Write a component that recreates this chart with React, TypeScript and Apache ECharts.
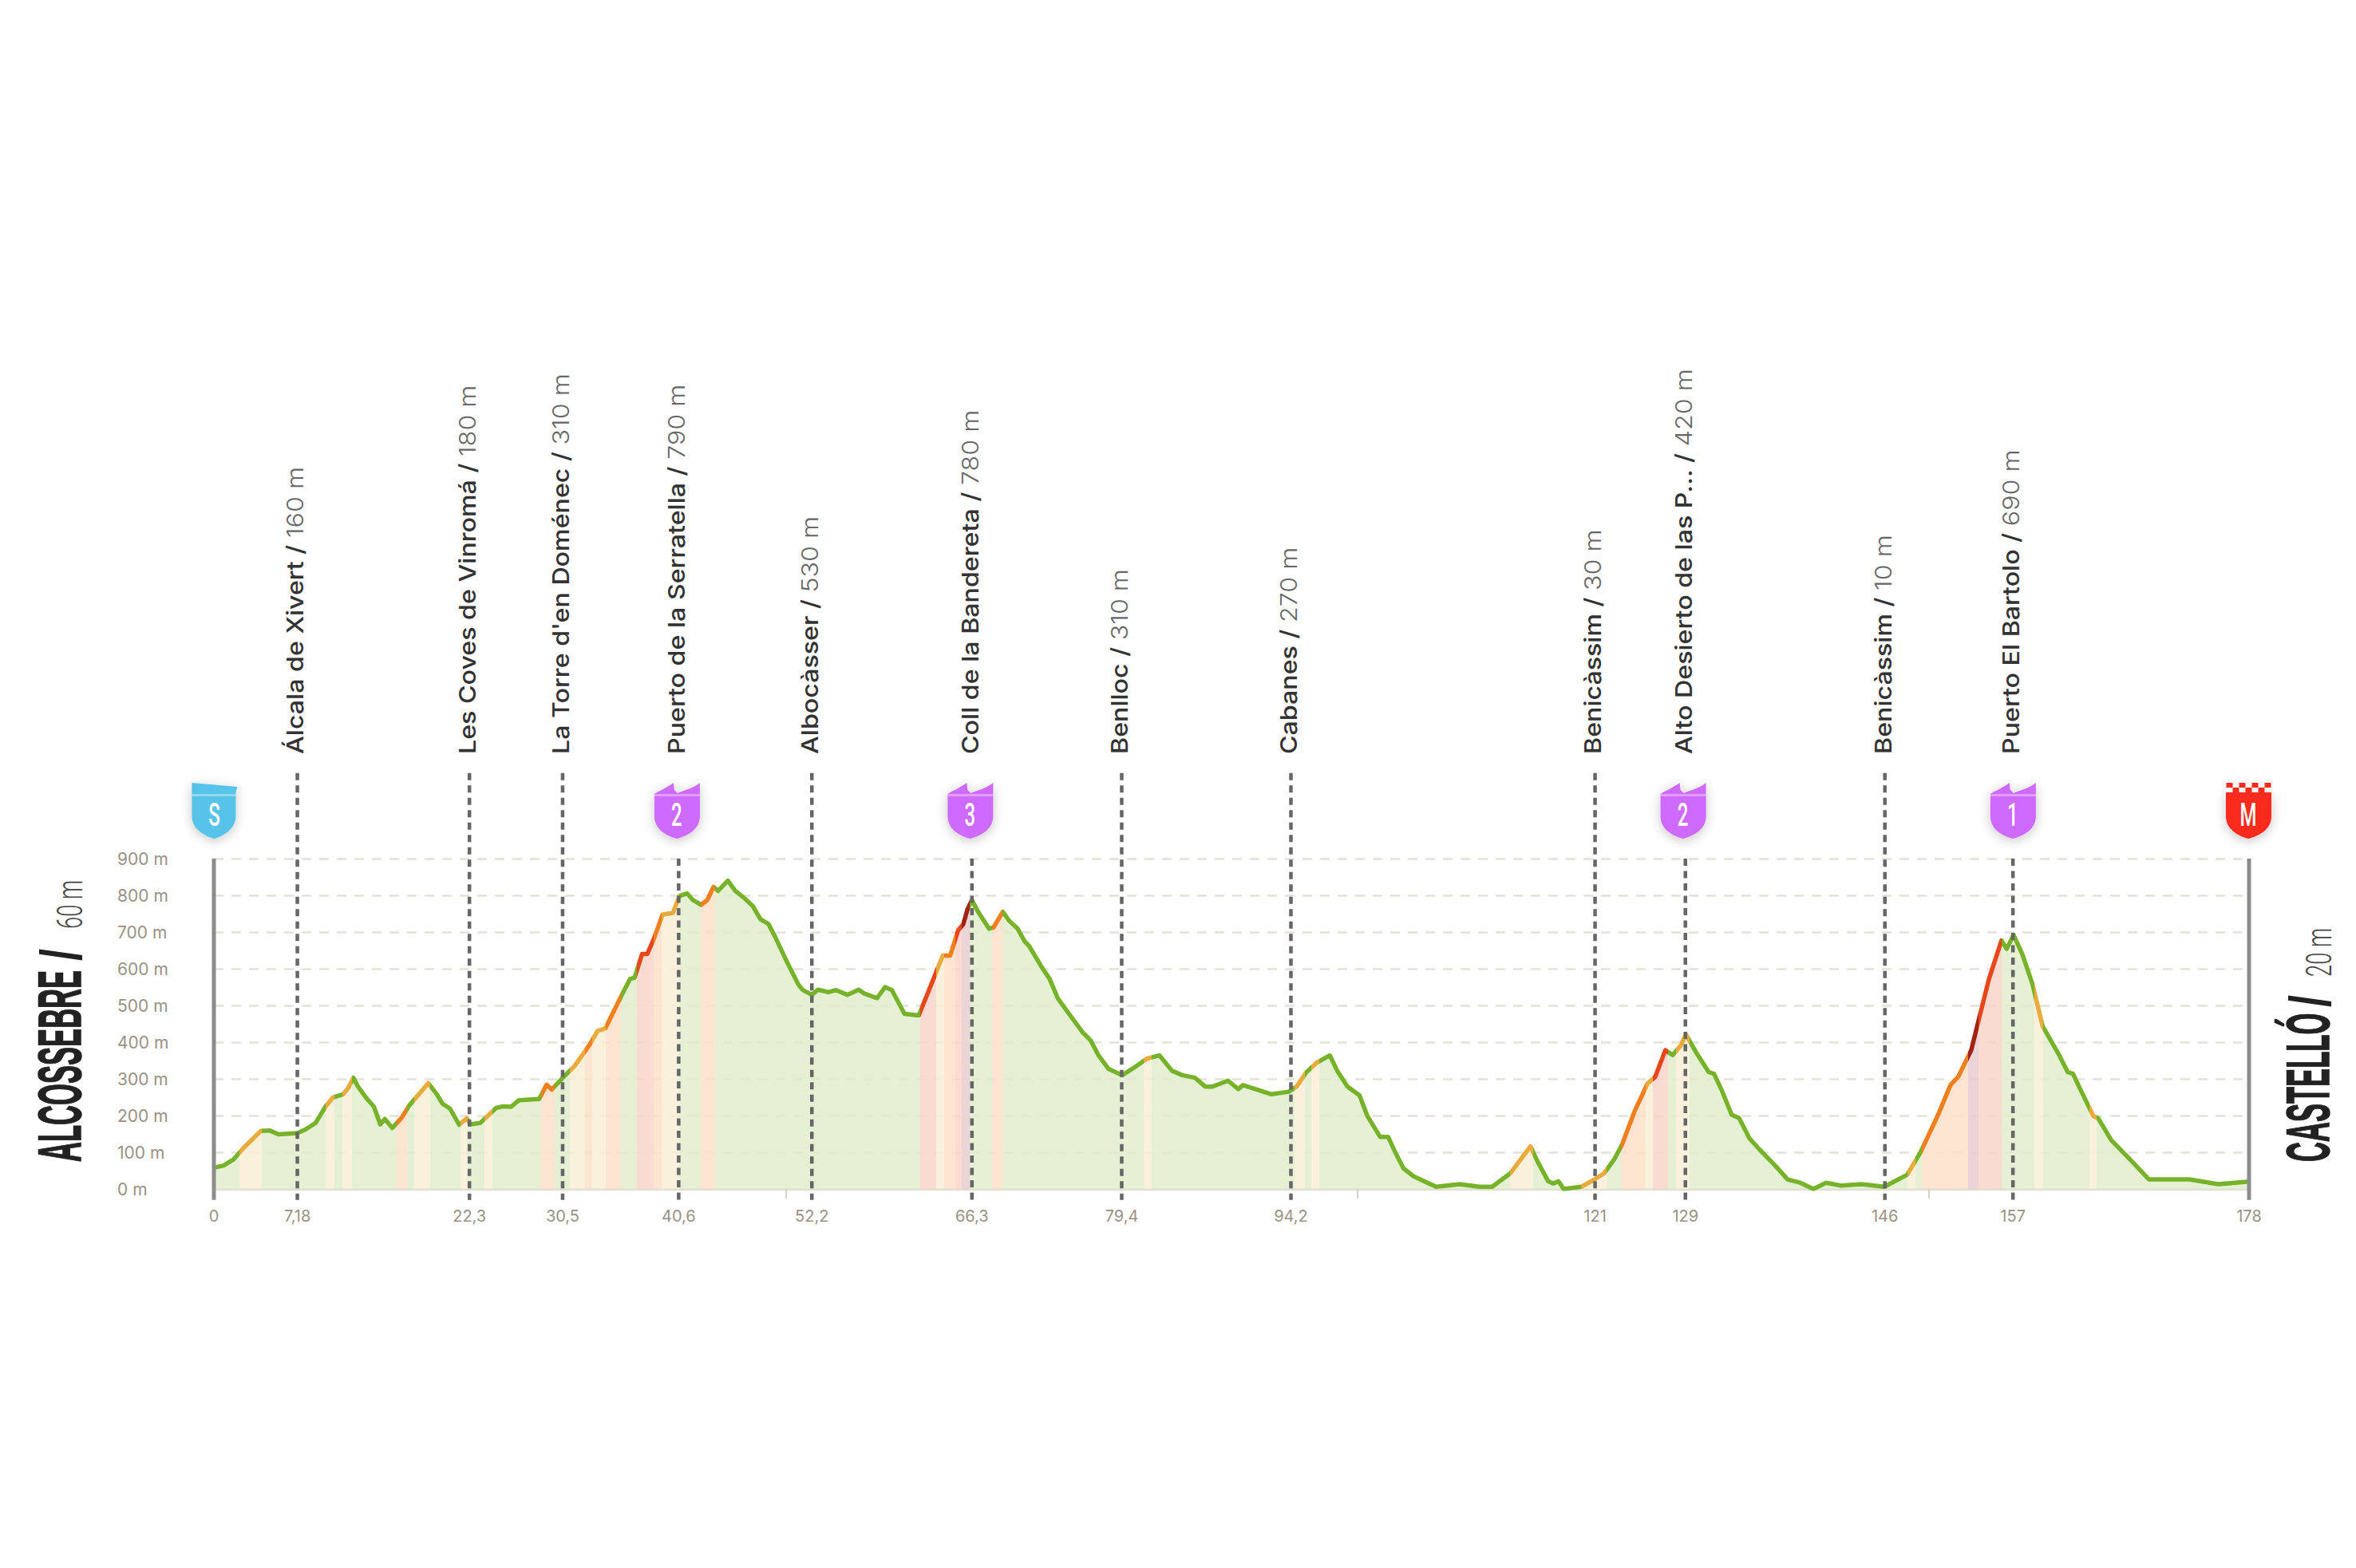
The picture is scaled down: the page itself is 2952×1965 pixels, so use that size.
import React, { useEffect, useRef } from "react";
import * as echarts from "echarts";

const kmPoints = [0,0.85,1.7,2.6,4.1,4.9,5.65,7.3,8,8.9,9.75,10.4,11.3,11.75,12.2,12.6,13.3,14,14.55,14.95,15.6,16.4,17.1,18.75,19.5,20,20.65,21.45,22.1,22.45,23.3,24.7,25.3,26,26.7,28.45,29.1,29.55,30.45,31.55,32.9,33.55,34.25,35.6,36.4,36.8,37.45,37.9,38.45,39.25,40.15,40.7,41.4,41.9,42.6,43.15,43.7,44.1,44.95,45.6,46.3,47.15,47.8,48.5,49.15,50.05,51.1,51.5,52.3,52.85,53.75,54.4,55.4,56.4,56.85,58,58.7,59.3,60.4,61.65,62.6,63.75,64.4,65.1,65.55,65.9,66.3,66.9,67.8,68.2,69,69.55,70.3,70.9,71.3,72.45,73.1,73.8,74.7,76,76.7,77.35,78.25,79.45,80.5,81.6,82.7,83.8,84.7,85.8,86.7,87.35,88.7,89.6,90,91.1,92.5,94,94.7,95.55,96.45,97.6,98.25,99.15,100.2,100.9,102,102.7,103.4,104.05,104.95,106.9,108.95,110.7,111.8,113.4,115.15,115.8,116.7,117.15,117.6,118.05,119.6,120.75,121.6,122.5,123.15,124.25,125.4,126.05,126.95,127.6,128.3,128.75,129.6,130.75,131.2,131.85,132.75,133.4,134.3,135.2,136.55,137.65,138.75,139.9,141,142.35,144.1,146.1,148.1,149.25,150.8,151.9,152.55,153.7,154.35,155.25,156.35,156.8,157.4,158.15,159.05,159.95,161.3,162.15,162.6,163.25,164.4,164.8,165.95,167.7,169.25,172.8,175.3,178];
const elevations = [58,64,80,112,158,159,149,152,162,180,224,249,258,275,303,279,249,224,176,191,166,193,228,288,258,232,219,175,192,176,180,221,225,224,242,245,284,271,301,335,395,430,438,524,572,576,640,640,679,748,752,798,805,787,774,787,823,812,840,812,795,770,735,722,683,623,558,542,529,543,536,542,529,543,533,520,550,542,477,473,546,636,636,705,722,761,787,752,709,713,755,731,709,675,662,602,572,520,481,426,404,365,327,310,331,355,364,322,310,303,279,279,295,272,283,272,258,265,279,318,344,364,322,279,255,198,142,142,95,56,34,6,13,6,6,43,116,73,21,15,21,0,6,26,43,82,120,211,288,305,378,365,391,421,374,318,314,271,202,193,138,107,64,26,17,0,17,9,13,6,39,99,202,284,305,378,460,572,677,654,692,641,559,443,370,318,314,271,198,193,133,77,26,26,13,20];

const climbStarts = [2.2,9.75,11.2,16,17.55,21.55,23.65,28.6,31.1,32.45,33.1,34.25,37,38.45,39.15,42.6,61.75,63.2,63.85,64.85,65.4,68.1,81.35,94.5,96,113.4,119.6,120.75,123.1,125.2,125.85,127.85,148.1,149.4,153.45,154.35,159.25,164];
const climbEnds = [4.2,10.55,12.05,16.9,18.9,22.2,24.35,29.8,32.45,33.1,34.25,35.6,38.45,39.15,40.7,43.8,63.2,63.85,64.85,65.4,66.1,69,82,95.4,96.7,115.4,120.75,121.8,125.2,125.85,127.2,129.05,148.8,153.45,154.35,156.35,159.95,164.7];
const climbLevels = [1,1,1,2,1,1,1,2,1,2,1,2,3,2,1,2,3,1,2,3,4,2,1,1,1,1,1,1,2,1,3,1,1,2,4,3,1,1];
const lineColors = ["#76b32a","#e9ab3b","#f0801f","#e8471c","#a12112"];
const areaColors = ["#e0edcd","#f9eed6","#fde0c9","#fad5c9","#e8ccd0"];

const waypointKm = [7.3,22.35,30.5,40.65,52.3,66.3,79.4,94.2,120.8,128.7,146.15,157.35];
const waypointNames = ["Álcala de Xivert","Les Coves de Vinromá","La Torre d'en Doménec","Puerto de la Serratella","Albocàsser","Coll de la Bandereta","Benlloc","Cabanes","Benicàssim","Alto Desierto de las P...","Benicàssim","Puerto El Bartolo"];
const waypointHeights = [160,180,310,790,530,780,310,270,30,420,10,690];
const waypointTops = [1133,1133,1133,900,1133,900,1133,1133,1133,900,1133,900];

const tickValues = [0,7.3,22.35,30.5,40.65,52.3,66.3,79.4,94.2,120.8,128.7,146.15,157.35,178];
const tickLabels = ["0","7,18","22,3","30,5","40,6","52,2","66,3","79,4","94,2","121","129","146","157","178"];
const minorTicks = [50,100,150];

const badgeKm = [0.1,40.55,66.2,128.55,157.4,178];
const badgeLetters = ["S","2","3","2","1","M"];
const badgeKinds = ["start","climb","climb","climb","climb","finish"];
const boundaryKm = [0,178];

const SHIELD_START = "M0 0 L57 5 L55 12 L55 42 C55 56 42 66 28 70 C13 66 0 56 0 42 Z";
const SHIELD_CLIMB = "M0 14 C6 10 14 7 24 0 L25 9 L29 13 C38 9 48 7 57 0 L57 42 C57 57 44 66 28 70 C13 66 0 57 0 42 Z";
const SHIELD_FINISH = "M0 12 L57 12 L57 42 C57 57 44 66 28 70 C13 66 0 57 0 42 Z";

export default function App() {
  const ref = useRef<HTMLDivElement>(null);
  useEffect(() => {
    const chart = echarts.init(ref.current!, null, { renderer: "svg" });
    const font = "Inter";
    const profile = kmPoints.map((k, i) => [k, elevations[i]]);
    const pieces = (colors: string[]) =>
      climbStarts.map((s, i) => ({ min: s, max: climbEnds[i], color: colors[climbLevels[i]] }));

    chart.setOption({
      animation: false,
      backgroundColor: "#ffffff",
      grid: { left: 268, right: 134, top: 1076, bottom: 475 },
      xAxis: {
        type: "value", min: 0, max: 178,
        splitLine: { show: false },
        axisLine: { show: true, onZero: false, lineStyle: { color: "#e2dfd0", width: 3 } },
        axisTick: { show: true, customValues: minorTicks, length: 12, lineStyle: { color: "#c9c6bc", width: 1.5 } },
        axisLabel: {
          show: true, customValues: tickValues, margin: 24,
          color: "#9a9184", fontFamily: font, fontSize: 20,
          formatter: (v: number) => tickLabels[tickValues.indexOf(v)] ?? "",
        },
      },
      yAxis: {
        type: "value", min: 0, max: 900, interval: 100,
        splitLine: { show: true, lineStyle: { color: "#e4e1d8", width: 2.5, type: [12, 10] } },
        axisLine: { show: false }, axisTick: { show: false },
        axisLabel: {
          margin: 121, align: "left", color: "#9a9184", fontFamily: font, fontSize: 21,
          formatter: "{value} m",
        },
      },
      visualMap: [
        { show: false, seriesIndex: 0, dimension: 0, pieces: pieces(areaColors), outOfRange: { color: areaColors[0] } },
        { show: false, seriesIndex: 1, dimension: 0, pieces: pieces(lineColors), outOfRange: { color: lineColors[0] } },
      ],
      series: [
        { type: "line", z: 1, data: profile, symbol: "none", silent: true, lineStyle: { width: 0 }, areaStyle: { opacity: 0.85 } },
        { type: "line", z: 2, data: profile, symbol: "none", silent: true, lineStyle: { width: 5.5, join: "round" } },
        {
          type: "custom", z: 3, silent: true,
          data: waypointKm.map((k, i) => [k, waypointTops[i]]),
          renderItem: (params: any, api: any) => {
            const i = params.dataIndex;
            const top = api.coord([api.value(0), api.value(1)]);
            const bot = api.coord([api.value(0), -30]);
            return {
              type: "group",
              children: [
                { type: "line", shape: { x1: top[0], y1: top[1], x2: bot[0], y2: bot[1] },
                  style: { stroke: "#666666", lineWidth: 4.5, lineDash: [9, 6.5] } },
                { type: "text", x: top[0] - 3, y: 945, rotation: Math.PI / 2, scaleX: 1.11,
                  style: {
                    text: `{a|${waypointNames[i]} / }{b|${waypointHeights[i]} m}`,
                    align: "left", verticalAlign: "middle",
                    rich: {
                      a: { fontFamily: font, fontSize: 29, fontWeight: 500, fill: "#333333", color: "#333333" },
                      b: { fontFamily: font, fontSize: 29, fontWeight: 300, fill: "#666666", color: "#666666" },
                    },
                  } },
              ],
            };
          },
        },
        {
          type: "custom", z: 4, silent: true,
          data: boundaryKm.map((k) => [k, 900]),
          renderItem: (_p: any, api: any) => {
            const top = api.coord([api.value(0), api.value(1)]);
            const bot = api.coord([api.value(0), -30]);
            return { type: "line", shape: { x1: top[0], y1: top[1], x2: bot[0], y2: bot[1] },
              style: { stroke: "#8c8c8c", lineWidth: 5 } };
          },
        },
        {
          type: "custom", z: 5, silent: true,
          data: badgeKm.map((k) => [k, 900]),
          renderItem: (params: any, api: any) => {
            const i = params.dataIndex;
            const p = api.coord([api.value(0), api.value(1)]);
            const x = p[0] - 29, y = p[1] - 95;
            const kind = badgeKinds[i];
            const color = kind === "start" ? "#58c3e8" : kind === "climb" ? "#cf6bff" : "#fa2a1c";
            const d = kind === "start" ? SHIELD_START : kind === "climb" ? SHIELD_CLIMB : SHIELD_FINISH;
            const top = kind === "finish" ? 12 : 0;
            const children: any[] = [
              { type: "path", x, y, shape: { pathData: d, x: 0, y: top, width: 57, height: 70 - top },
                style: { fill: color, shadowBlur: 14, shadowColor: "rgba(0,0,0,0.22)", shadowOffsetY: 3 } },
              { type: "rect", x, y, shape: { x: 0, y: 14, width: kind === "start" ? 55 : 57, height: 3 },
                style: { fill: kind === "finish" ? "rgba(255,255,255,0)" : "rgba(255,255,255,0.35)" } },
              { type: "text", x: x + 28, y: y + 40, scaleX: 0.6,
                style: { text: badgeLetters[i], fontFamily: "Roboto", fontWeight: 500, fontSize: 40,
                  fill: "#ffffff", align: "center", verticalAlign: "middle" } },
            ];
            if (kind === "finish") {
              for (let r = 0; r < 2; r++) {
                for (let c = 0; c < 7; c++) {
                  if ((r + c) % 2 === 0) {
                    children.push({ type: "rect", x, y, shape: { x: c * 8 + 0.5, y: r * 6, width: 8, height: 6 }, style: { fill: "#fa2a1c" } });
                  }
                }
              }
            }
            return { type: "group", children };
          },
        },
      ],
      graphic: [
        { type: "text", x: 113, y: 1456, rotation: Math.PI / 2, scaleX: 0.455,
          style: { text: "ALCOSSEBRE", fontFamily: "Liberation Sans", fontWeight: 700, fontSize: 76, fill: "#222222", stroke: "#222222", lineWidth: 1.5, align: "left", verticalAlign: "bottom" } },
        { type: "text", x: 113, y: 1204, rotation: Math.PI / 2, scaleX: 0.75,
          style: { text: "/", fontFamily: "Liberation Sans", fontWeight: 700, fontSize: 72, fill: "#222222", align: "left", verticalAlign: "bottom" } },
        { type: "text", x: 110, y: 1164, rotation: Math.PI / 2, scaleX: 0.62,
          style: { text: "60 m", fontFamily: "Roboto", fontWeight: 300, fontSize: 44, fill: "#444444", align: "left", verticalAlign: "bottom" } },
        { type: "text", x: 2930, y: 1456, rotation: Math.PI / 2, scaleX: 0.455,
          style: { text: "CASTELLÓ", fontFamily: "Liberation Sans", fontWeight: 700, fontSize: 76, fill: "#222222", stroke: "#222222", lineWidth: 1.5, align: "left", verticalAlign: "bottom" } },
        { type: "text", x: 2931, y: 1262, rotation: Math.PI / 2, scaleX: 0.75,
          style: { text: "/", fontFamily: "Liberation Sans", fontWeight: 700, fontSize: 72, fill: "#222222", align: "left", verticalAlign: "bottom" } },
        { type: "text", x: 2928, y: 1224, rotation: Math.PI / 2, scaleX: 0.62,
          style: { text: "20 m", fontFamily: "Roboto", fontWeight: 300, fontSize: 44, fill: "#444444", align: "left", verticalAlign: "bottom" } },
      ],
    });
    return () => chart.dispose();
  }, []);
  return <div ref={ref} style={{ position: "absolute", left: 0, top: 0, width: 2952, height: 1965 }} />;
}
